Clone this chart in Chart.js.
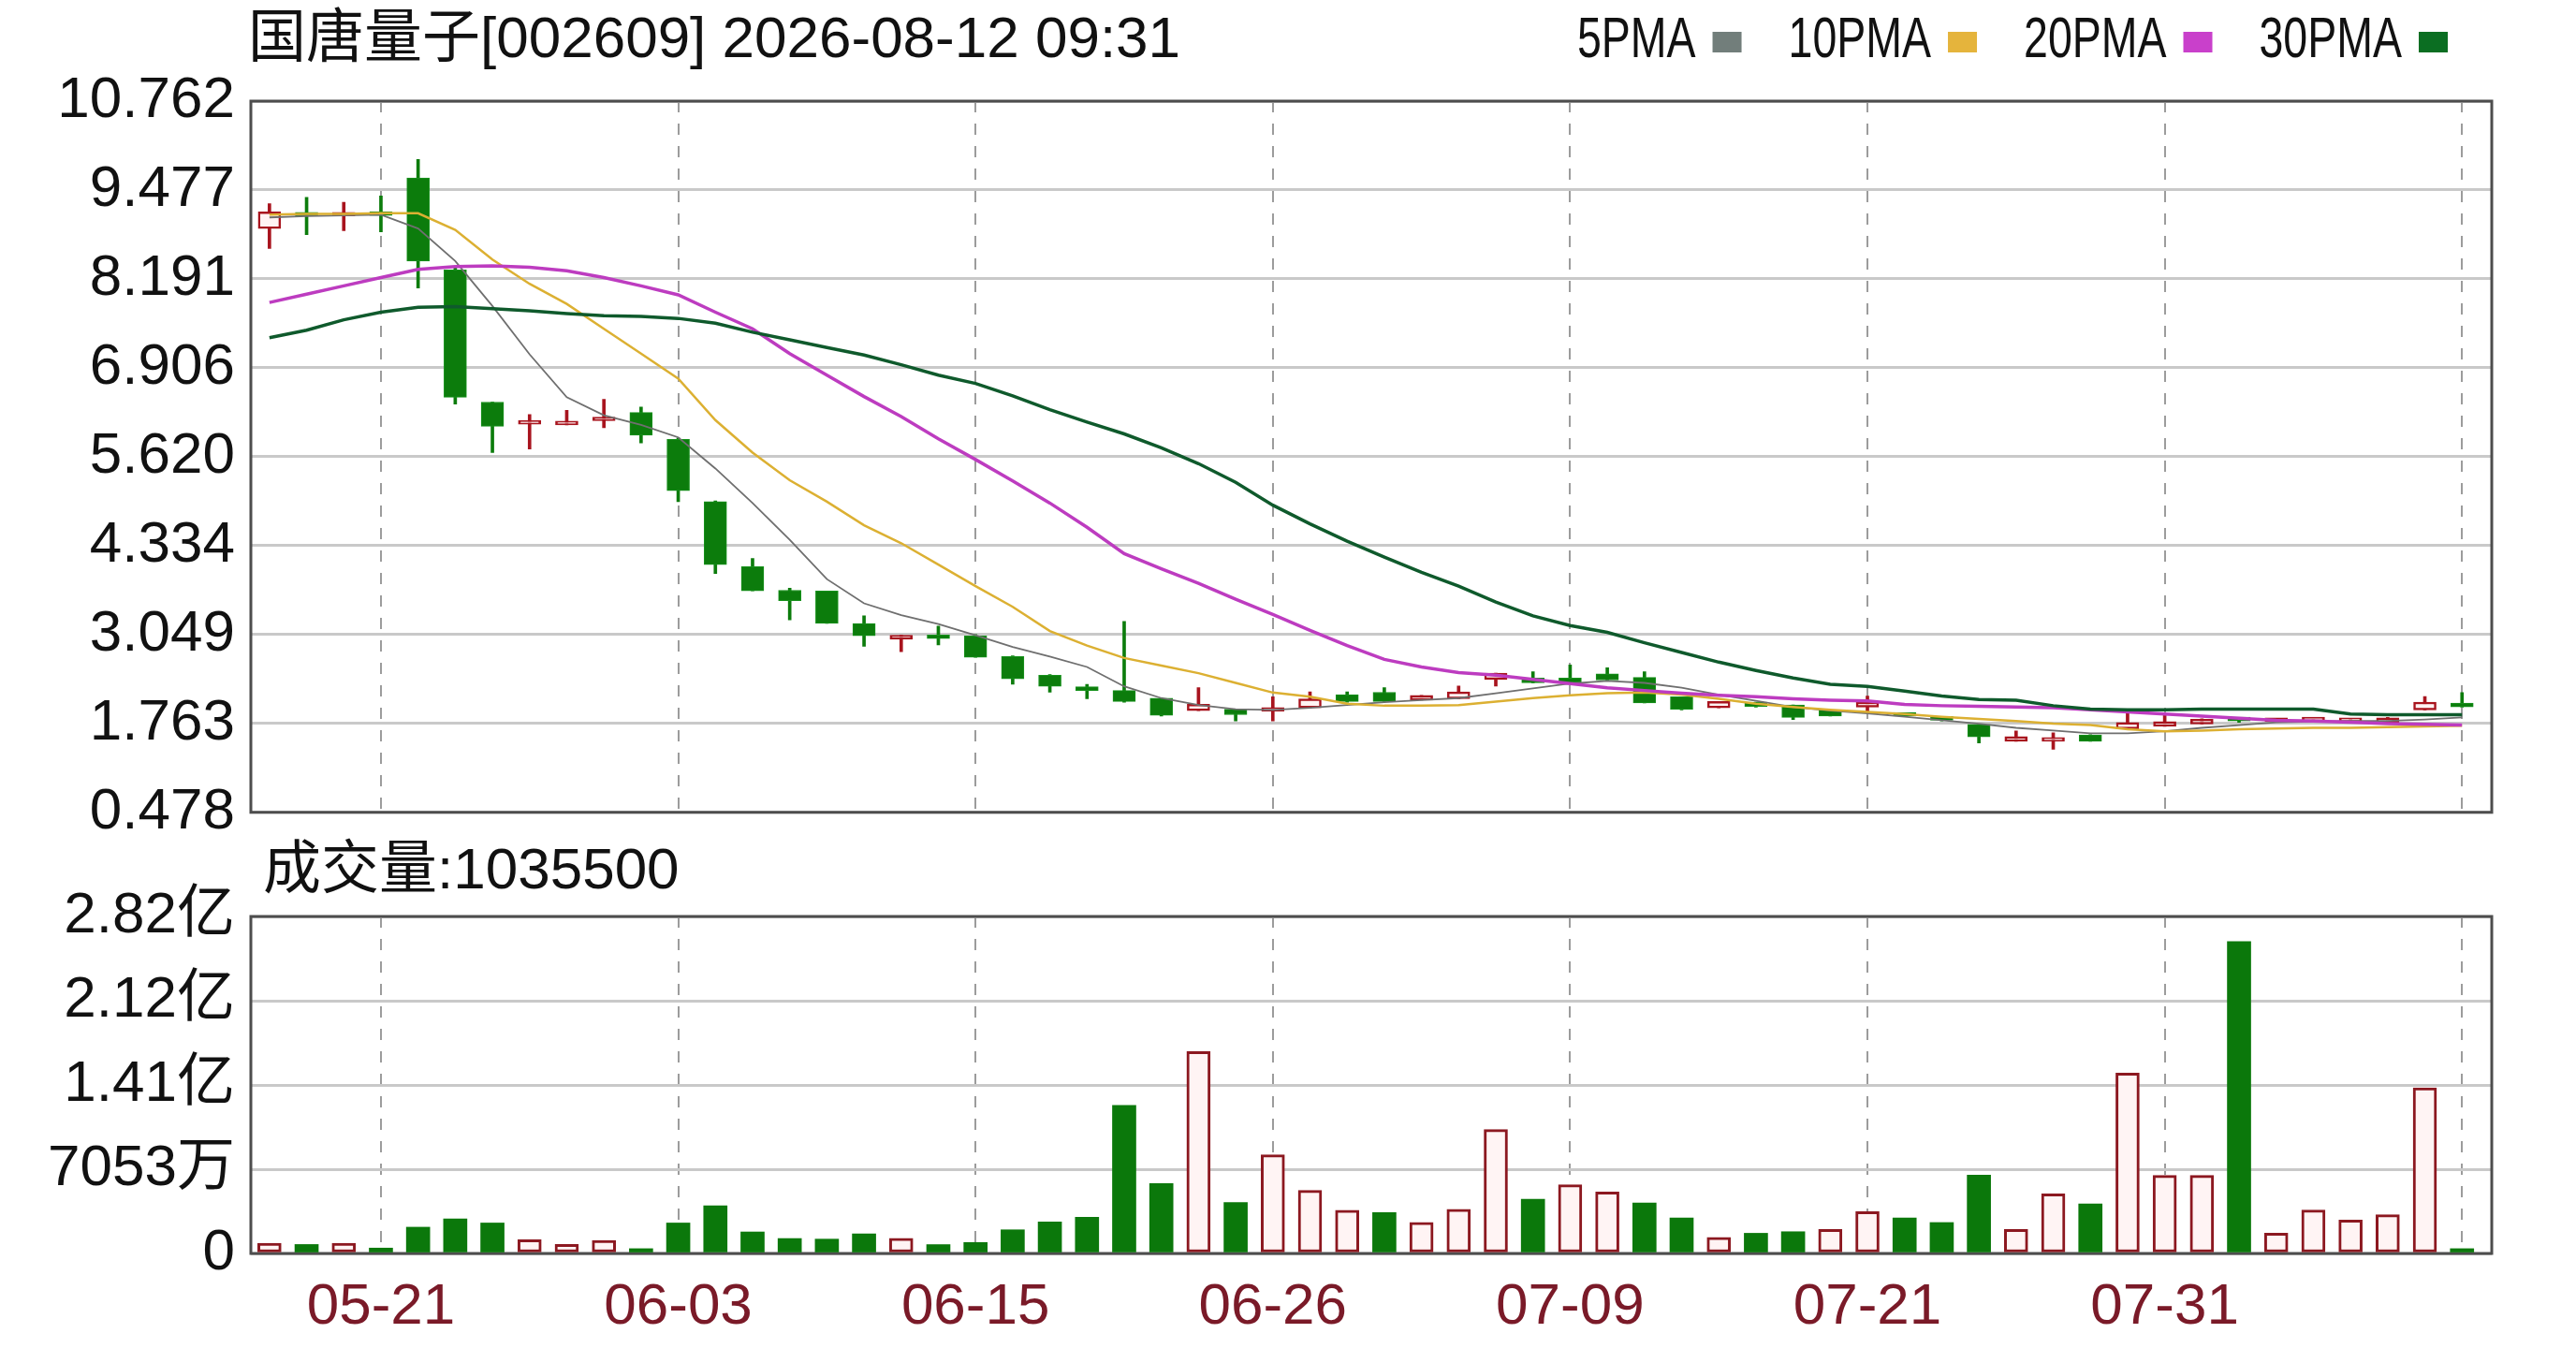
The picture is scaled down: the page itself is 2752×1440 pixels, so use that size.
<!DOCTYPE html>
<html>
<head>
<meta charset="utf-8">
<script src="https://cdn.jsdelivr.net/npm/chart.js@4.4.1/dist/chart.umd.min.js"></script>
<style>
  html, body { margin: 0; padding: 0; background: #fff; }
  #wrap { position: relative; width: 2752px; height: 1440px; }
  #priceBox { position: absolute; left: 0; top: 0; width: 2752px; height: 922px; }
  #volBox { position: absolute; left: 0; top: 880px; width: 2752px; height: 560px; }
</style>
</head>
<body>
<div id="wrap">
  <div id="priceBox"><canvas id="priceChart"></canvas></div>
  <div id="volBox"><canvas id="volChart"></canvas></div>
</div>
<script>
// trading days shown on the chart
const dates = [
  '05-18', '05-19', '05-20', '05-21', '05-22', '05-25', '05-26', '05-27', '05-28', '06-01',
  '06-02', '06-03', '06-04', '06-05', '06-08', '06-09', '06-10', '06-11', '06-12', '06-15',
  '06-16', '06-17', '06-18', '06-22', '06-23', '06-24', '06-25', '06-26', '06-29', '06-30',
  '07-01', '07-02', '07-06', '07-07', '07-08', '07-09', '07-10', '07-13', '07-14', '07-15',
  '07-16', '07-17', '07-20', '07-21', '07-22', '07-23', '07-24', '07-27', '07-28', '07-29',
  '07-30', '07-31', '08-03', '08-04', '08-05', '08-06', '08-07', '08-10', '08-11', '08-12'
];

const open = [
  8.92, 9.14, 9.10, 9.13, 9.65, 8.32, 6.41, 6.09, 6.08, 6.14,
  6.26, 5.87, 4.97, 4.03, 3.69, 3.68, 3.21, 2.98, 3.03, 3.03,
  2.73, 2.46, 2.28, 2.24, 2.13, 1.95, 1.97, 1.94, 1.99, 2.18,
  2.215, 2.10, 2.12, 2.40, 2.42, 2.42, 2.48, 2.43, 2.15, 1.99,
  2.07, 2.03, 1.96, 2.00, 1.89, 1.83, 1.75, 1.505, 1.505, 1.596,
  1.686, 1.72, 1.755, 1.82, 1.79, 1.80, 1.79, 1.777, 1.96, 2.05
];
const high = [
  9.28, 9.37, 9.30, 9.39, 9.92, 8.36, 6.41, 6.23, 6.29, 6.45,
  6.34, 5.89, 4.98, 4.15, 3.72, 3.68, 3.32, 3.04, 3.17, 3.05,
  2.74, 2.47, 2.33, 3.24, 2.13, 2.28, 1.97, 2.15, 2.22, 2.22,
  2.28, 2.17, 2.305, 2.49, 2.51, 2.61, 2.57, 2.51, 2.15, 2.08,
  2.07, 2.03, 1.96, 2.16, 1.90, 1.84, 1.75, 1.655, 1.628, 1.60,
  1.913, 1.89, 1.83, 1.83, 1.81, 1.82, 1.83, 1.85, 2.154, 2.21
];
const low = [
  8.63, 8.83, 8.89, 8.87, 8.06, 6.38, 5.68, 5.73, 6.08, 6.04,
  5.82, 4.97, 3.93, 3.68, 3.26, 3.21, 2.88, 2.80, 2.90, 2.72,
  2.33, 2.215, 2.12, 2.07, 1.87, 1.95, 1.80, 1.80, 1.99, 2.07,
  2.08, 2.10, 2.12, 2.305, 2.35, 2.35, 2.39, 2.06, 1.96, 1.99,
  2.00, 1.82, 1.87, 1.914, 1.86, 1.80, 1.48, 1.505, 1.39, 1.505,
  1.686, 1.72, 1.755, 1.78, 1.78, 1.79, 1.77, 1.777, 1.959, 2.00
];
const close = [
  9.16, 9.10, 9.14, 9.11, 8.45, 6.48, 6.06, 6.13, 6.12, 6.18,
  5.93, 5.13, 4.06, 3.68, 3.54, 3.21, 3.03, 3.04, 2.99, 2.72,
  2.41, 2.30, 2.24, 2.08, 1.88, 2.04, 1.89, 1.96, 2.12, 2.08,
  2.08, 2.17, 2.22, 2.49, 2.35, 2.35, 2.39, 2.06, 1.97, 2.08,
  2.01, 1.85, 1.87, 2.07, 1.87, 1.81, 1.57, 1.573, 1.55, 1.505,
  1.777, 1.79, 1.823, 1.80, 1.80, 1.81, 1.80, 1.845, 2.072, 2.004
];

// moving averages
const ma5 = [
  9.08, 9.10, 9.11, 9.12, 8.92, 8.45, 7.80, 7.10, 6.48, 6.22,
  6.08, 5.90, 5.45, 4.95, 4.42, 3.85, 3.50, 3.33, 3.20, 3.04,
  2.87, 2.73, 2.58, 2.30, 2.13, 2.03, 1.97, 1.96, 1.99, 2.03,
  2.07, 2.10, 2.13, 2.20, 2.27, 2.34, 2.38, 2.35, 2.28, 2.18,
  2.09, 2.00, 1.95, 1.91, 1.86, 1.81, 1.76, 1.70, 1.66, 1.62,
  1.62, 1.65, 1.70, 1.74, 1.78, 1.79, 1.80, 1.80, 1.82, 1.85
];
const ma10 = [
  9.12, 9.13, 9.13, 9.14, 9.14, 8.90, 8.47, 8.12, 7.83, 7.47,
  7.11, 6.75, 6.15, 5.68, 5.28, 4.97, 4.63, 4.37, 4.06, 3.75,
  3.45, 3.10, 2.89, 2.71, 2.60, 2.49, 2.35, 2.21, 2.15, 2.05,
  2.02, 2.02, 2.03, 2.08, 2.13, 2.17, 2.20, 2.21, 2.18, 2.12,
  2.05, 2.00, 1.96, 1.93, 1.90, 1.86, 1.83, 1.80, 1.76, 1.74,
  1.68, 1.65, 1.66, 1.68, 1.69, 1.70, 1.70, 1.71, 1.72, 1.73
];
const ma20 = [
  7.85, 7.97, 8.09, 8.21, 8.33, 8.37, 8.38, 8.36, 8.31, 8.21,
  8.09, 7.96, 7.71, 7.47, 7.11, 6.80, 6.49, 6.20, 5.88, 5.58,
  5.27, 4.95, 4.60, 4.22, 4.00, 3.79, 3.56, 3.34, 3.11, 2.89,
  2.69, 2.58, 2.50, 2.46, 2.40, 2.34, 2.28, 2.24, 2.20, 2.17,
  2.15, 2.12, 2.10, 2.09, 2.04, 2.02, 2.01, 2.00, 1.99, 1.96,
  1.93, 1.90, 1.87, 1.84, 1.81, 1.80, 1.78, 1.76, 1.75, 1.74
];
const ma30 = [
  7.34, 7.45, 7.60, 7.71, 7.78, 7.79, 7.76, 7.73, 7.69, 7.66,
  7.65, 7.62, 7.55, 7.42, 7.31, 7.20, 7.09, 6.95, 6.80, 6.68,
  6.50, 6.30, 6.12, 5.95, 5.75, 5.52, 5.25, 4.92, 4.65, 4.40,
  4.17, 3.95, 3.75, 3.52, 3.32, 3.18, 3.08, 2.93, 2.79, 2.65,
  2.53, 2.42, 2.33, 2.30, 2.23, 2.16, 2.11, 2.10, 2.02, 1.97,
  1.96, 1.96, 1.97, 1.97, 1.97, 1.97, 1.90, 1.89, 1.89, 1.89
];

const volume = [
  8500000, 7500000, 8500000, 4500000, 22000000, 29000000, 25500000, 11500000, 7500000, 11000000,
  4000000, 25500000, 40000000, 18000000, 12500000, 12000000, 16400000, 12700000, 7400000, 9200000,
  19800000, 26400000, 30300000, 124000000, 58600000, 169000000, 42700000, 82600000, 52800000, 36100000,
  34300000, 25900000, 37000000, 103700000, 45400000, 57500000, 51500000, 42200000, 29800000, 13500000,
  16900000, 18200000, 20200000, 35000000, 29800000, 25900000, 65600000, 20200000, 49800000, 41500000,
  151000000, 65300000, 65300000, 261000000, 16900000, 36300000, 28000000, 32400000, 138700000, 4000000
];
// 1 = red (hollow) volume bar, 0 = green
const volUp = [
  1, 0, 1, 0, 0, 0, 0, 1, 1, 1,
  0, 0, 0, 0, 0, 0, 0, 1, 0, 0,
  0, 0, 0, 0, 0, 1, 0, 1, 1, 1,
  0, 1, 1, 1, 0, 1, 1, 0, 0, 1,
  0, 0, 1, 1, 0, 0, 0, 1, 1, 0,
  1, 1, 1, 0, 1, 1, 1, 1, 1, 0
];

const priceTicks = [0.478, 1.763, 3.049, 4.334, 5.620, 6.906, 8.191, 9.477, 10.762];
const volTicks = [0, 70530000, 141060000, 211590000, 282120000];
const volTickLabels = ['0', '7053万', '1.41亿', '2.12亿', '2.82亿'];
const gridIdx = [3, 11, 19, 27, 35, 43, 51, 59];
const labelIdx = [3, 11, 19, 27, 35, 43, 51];

const titleText = '国唐量子[002609] 2026-08-12 09:31';
const volTitle = '成交量:1035500';
const maNames = ['5PMA', '10PMA', '20PMA', '30PMA'];
const maColors = ['#6f6f6f', '#dcb032', '#bd3cc0', '#0f5a2c'];
const maKeyColors = ['#727e7b', '#e5b43c', '#c940cb', '#0b6e22'];

const FONT = "'Liberation Sans', 'Noto Sans CJK SC', sans-serif";
Chart.defaults.font.family = FONT;
Chart.defaults.font.size = 62;
Chart.defaults.color = '#111';

const UP = '#a8141e';
const DOWN = '#0c7c0c';
const isUp = i => close[i] >= open[i];
const pts = arr => arr.map((v, i) => ({ x: i, y: v }));

// outer frame of each plot
const framePlugin = {
    id: 'frame',
    beforeDatasetsDraw(chart) {
        const { ctx, chartArea: a } = chart;
        ctx.save();
        ctx.strokeStyle = '#4d4d4d';
        ctx.lineWidth = 3;
        ctx.strokeRect(a.left, a.top, a.right - a.left, a.bottom - a.top);
        ctx.restore();
    }
};

// stock title and MA key at the top
const headerPlugin = {
    id: 'header',
    afterDraw(chart) {
        const ctx = chart.ctx;
        ctx.save();
        ctx.font = '62px ' + FONT;
        ctx.fillStyle = '#111';
        ctx.textBaseline = 'middle';
        ctx.fillText(titleText, 265, 44);

        const sx = 0.75;
        const widths = maNames.map(n => ctx.measureText(n).width * sx);
        const total = widths.reduce((s, w) => s + w + 18 + 31, 0) + 50 * (maNames.length - 1);
        let x = 2615 - total;
        maNames.forEach((n, i) => {
            ctx.save();
            ctx.translate(x, 44);
            ctx.scale(sx, 1);
            ctx.fillStyle = '#111';
            ctx.fillText(n, 0, 0);
            ctx.restore();
            x += widths[i] + 18;
            ctx.fillStyle = maKeyColors[i];
            ctx.fillRect(x, 34, 31, 22);
            x += 31 + 50;
        });
        ctx.restore();
    }
};

const volHeaderPlugin = {
    id: 'volHeader',
    afterDraw(chart) {
        const ctx = chart.ctx;
        ctx.save();
        ctx.font = '62px ' + FONT;
        ctx.fillStyle = '#111';
        ctx.textBaseline = 'middle';
        ctx.fillText(volTitle, 281, 52);
        ctx.restore();
    }
};

const xScale = (showLabels, height) => ({
    type: 'linear',
    min: -0.5,
    max: 59.8,
    offset: false,
    afterBuildTicks: s => { s.ticks = gridIdx.map(v => ({ value: v })); },
    afterFit: s => { s.height = height; },
    grid: {
        offset: false,
        drawTicks: false,
        color: '#9c9c9c',
        lineWidth: 2
    },
    border: { display: false, dash: [12, 12] },
    ticks: {
        display: showLabels,
        autoSkip: false,
        maxRotation: 0,
        padding: 21,
        color: '#7a1a28',
        callback: v => (labelIdx.includes(v) ? dates[v] : '')
    }
});

const maLine = (arr, i, width) => ({
    type: 'line',
    label: maNames[i],
    data: pts(arr),
    borderColor: maColors[i],
    borderWidth: width,
    pointRadius: 0,
    tension: 0,
    fill: false,
    order: 0
});

// Price chart: candles drawn as floating bars (wick + body) plus the MA lines
new Chart(document.getElementById('priceChart').getContext('2d'), {
    type: 'bar',
    data: {
        datasets: [
            maLine(ma30, 3, 3.5),
            maLine(ma20, 2, 3.5),
            maLine(ma10, 1, 2.5),
            maLine(ma5, 0, 1.8),
            {
                label: 'body',
                data: dates.map((d, i) => ({ x: i, y: [Math.min(open[i], close[i]), Math.max(open[i], close[i])] })),
                backgroundColor: c => (isUp(c.dataIndex) ? '#fff3f3' : DOWN),
                borderColor: c => (isUp(c.dataIndex) ? UP : '#17921c'),
                borderWidth: c => (isUp(c.dataIndex) ? 2.5 : 1),
                borderSkipped: false,
                barThickness: 24,
                minBarLength: 4,
                grouped: false,
                order: 1
            },
            {
                label: 'wick',
                data: dates.map((d, i) => ({ x: i, y: [low[i], high[i]] })),
                backgroundColor: c => (isUp(c.dataIndex) ? UP : DOWN),
                borderWidth: 0,
                barThickness: 3,
                grouped: false,
                order: 2
            }
        ]
    },
    options: {
        responsive: true,
        maintainAspectRatio: false,
        animation: false,
        events: [],
        layout: { padding: { top: 108, right: 90, bottom: 0, left: 0 } },
        plugins: { legend: { display: false }, tooltip: { enabled: false } },
        scales: {
            x: xScale(false, 43),
            y: {
                type: 'linear',
                min: 0.478,
                max: 10.762,
                afterBuildTicks: s => { s.ticks = priceTicks.map(v => ({ value: v })); },
                afterFit: s => { s.width = 268; },
                grid: { color: '#c9c9c9', lineWidth: 3, drawTicks: false },
                border: { display: false },
                ticks: {
                    padding: 17,
                    callback: v => v.toFixed(3)
                }
            }
        }
    },
    plugins: [framePlugin, headerPlugin]
});

// Volume chart
new Chart(document.getElementById('volChart').getContext('2d'), {
    type: 'bar',
    data: {
        datasets: [{
            label: '成交量',
            data: pts(volume),
            backgroundColor: volUp.map(u => (u ? '#fff4f4' : '#0b780b')),
            borderColor: volUp.map(u => (u ? '#8c1820' : '#0b780b')),
            borderWidth: volUp.map(u => (u ? 3 : 0)),
            borderSkipped: false,
            barThickness: 25
        }]
    },
    options: {
        responsive: true,
        maintainAspectRatio: false,
        animation: false,
        events: [],
        layout: { padding: { top: 99, right: 90, bottom: 0, left: 0 } },
        plugins: { legend: { display: false }, tooltip: { enabled: false } },
        scales: {
            x: xScale(true, 101),
            y: {
                type: 'linear',
                min: 0,
                max: 282120000,
                afterBuildTicks: s => { s.ticks = volTicks.map(v => ({ value: v })); },
                afterFit: s => { s.width = 268; },
                grid: { color: '#c9c9c9', lineWidth: 3, drawTicks: false },
                border: { display: false },
                ticks: {
                    padding: 17,
                    callback: (v, i) => volTickLabels[i]
                }
            }
        }
    },
    plugins: [framePlugin, volHeaderPlugin]
});
</script>
</body>
</html>
